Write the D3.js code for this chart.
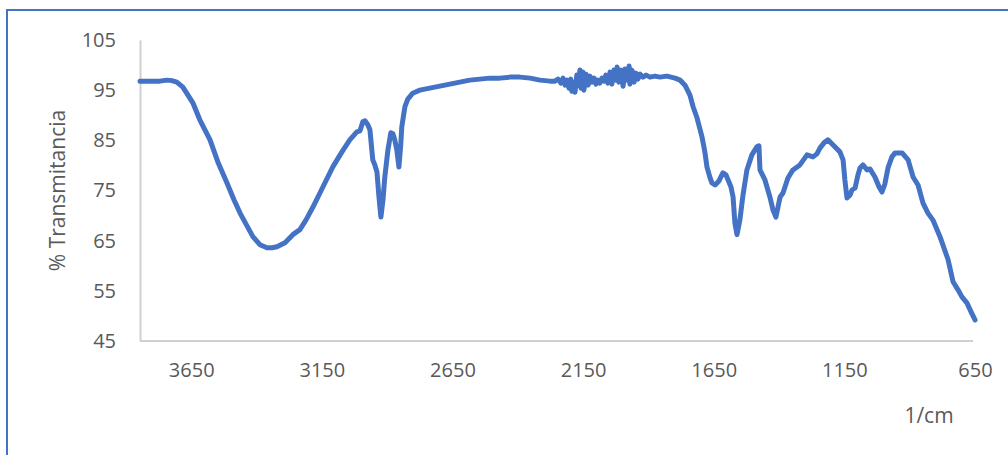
<!DOCTYPE html>
<html>
<head>
<meta charset="utf-8">
<script src="https://cdn.jsdelivr.net/npm/d3@7/dist/d3.min.js"></script>
<style>
  html, body { margin: 0; padding: 0; background: #fff; }
  svg { display: block; }
  text { font-family: "Open Sans", "Noto Sans", sans-serif; fill: #595959; }
</style>
</head>
<body>
<svg id="chart" width="1008" height="455"></svg>
<script>
// FTIR spectrum: wavenumber (1/cm) and % transmittance
const wavenumber = [
  3846, 3808, 3770, 3743, 3724, 3705, 3682, 3643, 3617, 3578, 3548, 3513, 3486, 3463, 3436, 3414,
  3387, 3360, 3341, 3322, 3291, 3261, 3234, 3211, 3184, 3146, 3108, 3073, 3043, 3016, 3004, 2993,
  2985, 2974, 2966, 2955, 2947, 2939, 2932, 2924, 2916, 2909, 2897, 2886, 2878, 2871, 2863, 2855,
  2848, 2844, 2832, 2821, 2802, 2775, 2737, 2660, 2584, 2507, 2468, 2430, 2392, 2353, 2315, 2277,
  2258, 2246, 2235, 2227, 2219, 2212, 2204, 2197, 2193, 2185, 2181, 2174, 2170, 2162, 2158, 2151,
  2147, 2139, 2131, 2124, 2116, 2108, 2101, 2093, 2086, 2078, 2070, 2063, 2055, 2047, 2040, 2032,
  2024, 2020, 2013, 2005, 1997, 1990, 1982, 1974, 1971, 1963, 1955, 1948, 1940, 1932, 1921, 1909,
  1894, 1875, 1856, 1829, 1798, 1779, 1760, 1741, 1729, 1714, 1695, 1684, 1676, 1664, 1657, 1645,
  1630, 1615, 1603, 1595, 1584, 1576, 1569, 1561, 1550, 1538, 1523, 1504, 1485, 1477, 1473, 1454,
  1435, 1423, 1412, 1404, 1396, 1385, 1366, 1347, 1320, 1293, 1270, 1255, 1243, 1228, 1213, 1194,
  1167, 1155, 1148, 1140, 1128, 1121, 1109, 1098, 1090, 1079, 1063, 1052, 1033, 1017, 1006, 995,
  983, 968, 956, 929, 906, 887, 868, 849, 830, 811, 784, 753, 734, 715, 700, 681,
  665, 650
];
const transmittance = [
  96.8, 96.8, 96.8, 97.0, 96.9, 96.6, 95.6, 92.4, 89.1, 85.1, 80.7, 76.5, 73.1, 70.5, 67.9, 65.8,
  64.2, 63.6, 63.6, 63.8, 64.6, 66.2, 67.2, 69.1, 71.7, 75.7, 79.7, 82.7, 85.1, 86.7, 86.9, 88.7,
  88.9, 88.1, 87.1, 81.1, 80.1, 78.7, 74.1, 69.7, 73.1, 77.7, 83.1, 86.5, 86.3, 85.1, 83.1, 79.7,
  84.1, 87.7, 91.7, 93.2, 94.4, 95.0, 95.4, 96.2, 97.0, 97.4, 97.4, 97.6, 97.6, 97.4, 97.0, 96.8,
  96.8, 97.2, 96.4, 97.4, 96.0, 97.0, 95.4, 97.2, 94.8, 96.4, 94.6, 98.0, 96.0, 99.0, 95.4, 98.6,
  95.0, 98.2, 96.0, 97.8, 96.6, 97.4, 96.2, 97.0, 96.4, 97.4, 96.8, 98.0, 96.4, 98.6, 96.2, 99.0,
  97.0, 99.6, 96.6, 99.0, 95.8, 99.2, 97.0, 99.8, 96.2, 99.0, 96.6, 98.4, 97.2, 98.2, 97.6, 98.0,
  97.6, 97.8, 97.6, 97.8, 97.4, 97.0, 96.0, 94.0, 91.7, 89.5, 85.7, 82.7, 79.7, 77.5, 76.5, 76.1,
  76.9, 78.5, 78.1, 77.1, 75.7, 73.7, 68.5, 66.2, 69.1, 74.1, 79.1, 82.1, 83.7, 83.9, 79.1, 77.1,
  73.7, 71.1, 69.7, 71.7, 73.7, 74.5, 77.5, 79.1, 80.1, 82.1, 81.7, 82.3, 83.5, 84.5, 85.1, 84.1,
  82.7, 81.1, 77.1, 73.5, 74.1, 75.1, 75.5, 78.1, 79.5, 80.1, 79.1, 79.3, 77.7, 75.7, 74.7, 76.3,
  79.5, 81.7, 82.5, 82.5, 81.1, 77.7, 76.1, 72.5, 70.5, 69.1, 65.8, 61.2, 56.8, 55.2, 53.8, 52.6,
  50.8, 49.2
];
const xTicks = [3650, 3150, 2650, 2150, 1650, 1150, 650];
const yTicks = [45, 55, 65, 75, 85, 95, 105];
const xLabel = "1/cm";
const yLabel = "% Transmitancia";

const svg = d3.select("#chart");

// chart frame
svg.append("rect")
  .attr("x", 7).attr("y", 10)
  .attr("width", 1100).attr("height", 500)
  .attr("fill", "none")
  .attr("stroke", "#4472C4")
  .attr("stroke-width", 2);

const plot = { left: 140, right: 975, top: 40, bottom: 341 };

// reversed wavenumber axis, high to low
const x = d3.scaleLinear().domain([3846, 650]).range([plot.left, plot.right]);
const y = d3.scaleLinear().domain([45, 105]).range([plot.bottom, plot.top]);

// y axis
const yAxis = svg.append("g")
  .attr("transform", `translate(${plot.left},0)`)
  .call(d3.axisLeft(y).tickValues(yTicks).tickSize(0).tickPadding(24));
yAxis.select(".domain").attr("stroke", "#d0d0d0").attr("stroke-width", 2);
yAxis.selectAll("text").attr("font-size", 20).attr("fill", "#595959")
  .attr("font-family", '"Open Sans", sans-serif');

// x axis
const xAxis = svg.append("g")
  .attr("transform", `translate(0,${plot.bottom})`)
  .call(d3.axisBottom(x).tickValues(xTicks).tickSize(0).tickPadding(22)
    .tickFormat(d3.format("d")));
xAxis.select(".domain").attr("stroke", "#d0d0d0").attr("stroke-width", 2)
  .attr("d", `M${plot.left},0H${plot.right - 2}`);
xAxis.selectAll("text").attr("font-size", 20).attr("fill", "#595959")
  .attr("font-family", '"Open Sans", sans-serif');

// axis titles
svg.append("text")
  .attr("transform", `translate(65,${(plot.top + plot.bottom) / 2}) rotate(-90)`)
  .attr("text-anchor", "middle")
  .attr("font-size", 21)
  .text(yLabel);

svg.append("text")
  .attr("x", 929).attr("y", 423)
  .attr("text-anchor", "middle")
  .attr("font-size", 21)
  .text(xLabel);

// spectrum trace
const points = wavenumber.map((w, i) => [w, transmittance[i]]);
svg.append("path")
  .datum(points)
  .attr("fill", "none")
  .attr("stroke", "#4472C4")
  .attr("stroke-width", 5)
  .attr("stroke-linejoin", "round")
  .attr("stroke-linecap", "round")
  .attr("d", d3.line().x(d => x(d[0])).y(d => y(d[1])));
</script>
</body>
</html>
